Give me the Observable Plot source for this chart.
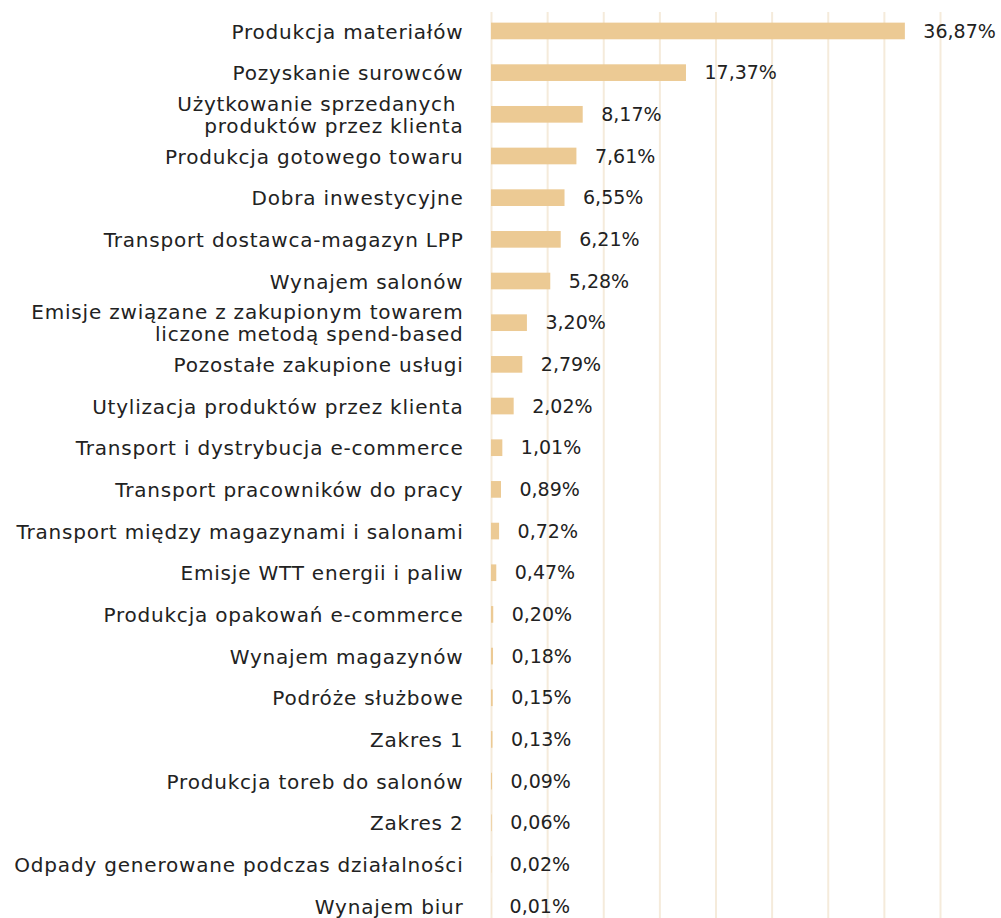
<!DOCTYPE html>
<html>
<head>
<meta charset="utf-8">
<script src="https://cdn.jsdelivr.net/npm/d3@7"></script>
<script src="https://cdn.jsdelivr.net/npm/@observablehq/plot@0.6"></script>
<style>
  html, body { margin: 0; padding: 0; background: #fff; }
  #chart { width: 1001px; height: 918px; }
  .ylab text { letter-spacing: 0.8px; }
</style>
</head>
<body>
<div id="chart"></div>
<script>
const categories = [
  "Produkcja materiałów",
  "Pozyskanie surowców",
  "Użytkowanie sprzedanych\u00a0\nproduktów przez klienta",
  "Produkcja gotowego towaru",
  "Dobra inwestycyjne",
  "Transport dostawca-magazyn LPP",
  "Wynajem salonów",
  "Emisje związane z zakupionym towarem\nliczone metodą spend-based",
  "Pozostałe zakupione usługi",
  "Utylizacja produktów przez klienta",
  "Transport i dystrybucja e-commerce",
  "Transport pracowników do pracy",
  "Transport między magazynami i salonami",
  "Emisje WTT energii i paliw",
  "Produkcja opakowań e-commerce",
  "Wynajem magazynów",
  "Podróże służbowe",
  "Zakres 1",
  "Produkcja toreb do salonów",
  "Zakres 2",
  "Odpady generowane podczas działalności",
  "Wynajem biur"
];
const values = [36.87, 17.37, 8.17, 7.61, 6.55, 6.21, 5.28, 3.20, 2.79, 2.02, 1.01, 0.89, 0.72, 0.47, 0.20, 0.18, 0.15, 0.13, 0.09, 0.06, 0.02, 0.01];
const xTicks = [0, 5, 10, 15, 20, 25, 30, 35, 40];

const data = categories.map((c, i) => ({category: c, value: values[i]}));
const fmt = v => v.toFixed(2).replace(".", ",") + "%";
const FONT = "'DejaVu Sans', sans-serif";

const chart = Plot.plot({
  width: 1001,
  height: 918,
  marginLeft: 491,
  marginRight: 0,
  marginTop: 12,
  marginBottom: 0,
  style: {fontFamily: FONT, fontSize: "20px", color: "#222", background: "#fff"},
  x: {domain: [0, 40], range: [491, 940], axis: null},
  y: {domain: categories, paddingInner: 0.6, paddingOuter: 0.17, align: 0.75, round: false, label: null},
  marks: [
    Plot.ruleX(xTicks, {stroke: "#f5ebdb", strokeWidth: 2}),
    Plot.barX(data, {x: "value", y: "category", fill: "#ecca94"}),
    Plot.text(data, {x: "value", y: "category", text: d => fmt(d.value), textAnchor: "start", dx: 18, fill: "#222", fontSize: 19}),
    Plot.axisY({tickSize: 0, tickPadding: 28, fontSize: 20, fill: "#222", label: null, lineHeight: 1.1, className: "ylab"})
  ]
});
document.getElementById("chart").appendChild(chart);
</script>
</body>
</html>
